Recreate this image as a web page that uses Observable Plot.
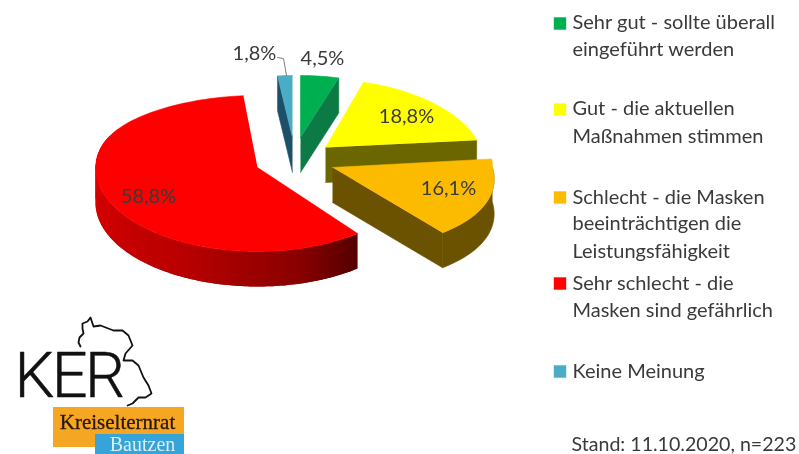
<!DOCTYPE html>
<html lang="de">
<head>
<meta charset="utf-8">
<script src="https://cdn.jsdelivr.net/npm/d3@7"></script>
<script src="https://cdn.jsdelivr.net/npm/@observablehq/plot@0.6"></script>
<style>
html,body{margin:0;padding:0;background:#fff;overflow:hidden}
svg{display:block;filter:blur(0.45px)}
.ker text{letter-spacing:-2.5px}
</style>
</head>
<body>
<div id="chart"></div>
<script>
// ---- data ----
const categories = ["Sehr gut", "Gut", "Schlecht", "Sehr schlecht", "Keine Meinung"];
const shares = [4.5, 18.8, 16.1, 58.8, 1.8];
const topColors = ["#00b050", "#ffff00", "#fdbb00", "#ff0000", "#4bacc6"];
const sideColors = ["#0c7a45", "#6b6600", "#6b5200", "#b00000", "#1d5068"];
const legendLines = [
  ["Sehr gut - sollte überall", "eingeführt werden"],
  ["Gut - die aktuellen", "Maßnahmen stimmen"],
  ["Schlecht - die Masken", "beeinträchtigen die", "Leistungsfähigkeit"],
  ["Sehr schlecht - die", "Masken sind gefährlich"],
  ["Keine Meinung"]
];
const footnote = "Stand: 11.10.2020, n=223";

// ---- layout of the exploded, tilted pie (per slice) ----
const apexX = [300, 325, 332, 257, 292];
const apexY = [137, 147, 167, 167, 137];
const radiusX = [155, 154, 160, 162, 150];
const radiusBack = [62, 68, 80, 72, 62];
const radiusFront = [62, 80, 83, 84, 62];
const backPower = [1, 1, 1, 0.6, 1];
const shrinkBack = [0.12, 0.12, 0, 0.23, 0.12];
const growFront = [0, 0, 0.145, 0, 0];
const labelX = [322, 406, 448, 148, 254];
const labelY = [58, 116, 188, 196, 53];
const legendY = [[22, 49], [108, 136], [197, 223, 251], [283, 310], [371]];
const depth = 35;

const total = d3.sum(shares);
const cumulative = d3.cumsum(shares);
const arcPoint = (i, deg) => {
  const t = deg * Math.PI / 180, c = Math.cos(t), s = Math.sin(t);
  const k = 1 - shrinkBack[i] * Math.max(c, 0) + growFront[i] * Math.max(-c, 0);
  return {
    x: apexX[i] + radiusX[i] * s * k,
    y: apexY[i] - (c > 0 ? radiusBack[i] * Math.pow(c, backPower[i]) : radiusFront[i] * c)
  };
};
const sweep = (a, b, step = 2) => {
  const n = Math.max(1, Math.ceil(Math.abs(b - a) / step));
  return d3.range(n + 1).map(j => a + (b - a) * j / n);
};
const startDeg = i => (i ? cumulative[i - 1] : 0) / total * 360;
const endDeg = i => cumulative[i] / total * 360;

let pid = 0;
const addPoly = (list, pts, c) => { pid++; pts.forEach(p => list.push({...p, id: pid, c})); };
const down = p => ({x: p.x, y: p.y + depth});
const backFaces = [], redStrips = [], redTop = [];
const radialFace = (i, deg, c) => {
  const a = {x: apexX[i], y: apexY[i]}, e = arcPoint(i, deg);
  addPoly(backFaces, [a, e, down(e), down(a)], c);
};
const redShade = d3.scaleLinear()
  .domain([142, 165, 205, 250, 290])
  .range(["#560000", "#8a0000", "#b80000", "#cf0000", "#e00000"]);

// painter's order: back slices first
[4, 0, 1, 2].forEach(i => {
  const a = startDeg(i), b = endDeg(i);
  if (i === 4) radialFace(i, a, sideColors[i]);
  if (i === 0 || i === 1) radialFace(i, b, sideColors[i]);
  if (i === 2) {
    const arc = sweep(90, b).map(d => arcPoint(i, d));
    addPoly(backFaces, [...arc, ...arc.map(down).reverse()], sideColors[i]);
    radialFace(i, b, sideColors[i]);
  }
  addPoly(backFaces, [{x: apexX[i], y: apexY[i]}, ...sweep(a, b).map(d => arcPoint(i, d))], topColors[i]);
});
// red slice: overlapping strips give a smooth shaded rim
const redStart = startDeg(3), redEnd = endDeg(3);
const rimDegs = sweep(redStart, 285, 2);
rimDegs.forEach((d, j) => {
  if (j + 1 >= rimDegs.length) return;
  const span = sweep(d, rimDegs[Math.min(j + 2, rimDegs.length - 1)], 1).map(v => arcPoint(3, v));
  addPoly(redStrips, [...span, ...span.map(down).reverse()], redShade(d));
});
addPoly(redTop, [{x: apexX[3], y: apexY[3]}, ...sweep(redStart, redEnd).map(d => arcPoint(3, d))], topColors[3]);

const fmt = v => v.toFixed(1).replace(".", ",") + "%";
const labels = shares.map((v, i) => ({x: labelX[i], y: labelY[i], t: fmt(v)}));
const leader = [{x: 277, y: 57}, {x: 283, y: 58}, {x: 286, y: 75}];

const legendSquares = categories.map((c, i) => ({c, fill: topColors[i], y: legendY[i][0] + (i === 0 || i === 1 ? 1 : 0)}));
const legendText = legendLines.flatMap((lines, i) => lines.map((t, j) => ({t, y: legendY[i][j]})));

// ---- logo ----
const mapOutline = [[80,346],[78,342],[79,337],[83,333],[82,328],[82,323],[87,321],[90,317],[93,326],[100,325],[113,330],[122,330],[128,335],[132,345],[125,353],[123,360],[132,360],[138,365],[143,377],[148,385],[151,393],[145,397],[138,397],[132,403],[127,405]]
  .map(([x, y]) => ({x, y}));
const logoRects = [
  {x1: 53, x2: 184, y1: 407, y2: 447, c: "#f5a623"},
  {x1: 95, x2: 184, y1: 434, y2: 454, c: "#36a3d9"}
];

const font = "Lato, 'Open Sans', sans-serif";
const faces = {x: "x", y: "y", z: "id", fill: "c", curve: "linear"};
const chart = Plot.plot({
  width: 799, height: 454, margin: 0,
  x: {domain: [0, 799], range: [0, 799], axis: null},
  y: {domain: [0, 454], range: [0, 454], axis: null},
  color: {type: "identity"},
  style: {background: "#fff", fontFamily: font},
  marks: [
    Plot.line(backFaces, {...faces, stroke: "c", strokeWidth: 0.6}),
    Plot.line(redStrips, {...faces, stroke: "none"}),
    Plot.line(redTop, {...faces, stroke: "c", strokeWidth: 0.6}),
    Plot.line(leader, {x: "x", y: "y", stroke: "#7f7f7f", strokeWidth: 1}),
    Plot.text(labels, {x: "x", y: "y", text: "t", fill: "#3a3a3a", fontSize: 20, fontFamily: font}),
    Plot.dot(legendSquares, {x: 559.5, y: "y", symbol: "square", r: 7, fill: "fill", stroke: "none"}),
    Plot.text(legendText, {x: 572, y: "y", text: "t", textAnchor: "start", fill: "#3a3a3a", fontSize: 20, fontFamily: font}),
    Plot.text([footnote], {x: 571, y: 444, text: d => d, textAnchor: "start", fill: "#3a3a3a", fontSize: 19.6, fontFamily: font}),
    Plot.rect(logoRects, {x1: "x1", x2: "x2", y1: "y1", y2: "y2", fill: "c"}),
    Plot.line(mapOutline, {x: "x", y: "y", stroke: "#111", strokeWidth: 1.8, curve: "linear"}),
    Plot.text(["KER"], {x: 68, y: 376, text: d => d, fill: "#111", stroke: "#111", strokeWidth: 0.5, fontSize: 63, fontWeight: 300, fontFamily: "Roboto", className: "ker"}),
    Plot.text(["Kreiselternrat"], {x: 117, y: 422, text: d => d, fill: "#2a1608", stroke: "#2a1608", strokeWidth: 0.3, fontSize: 21, fontFamily: "'Liberation Serif'"}),
    Plot.text(["Bautzen"], {x: 142, y: 444, text: d => d, fill: "#dceef7", fontSize: 20, fontFamily: "'Liberation Serif'"})
  ]
});
document.getElementById("chart").append(chart);
</script>
</body>
</html>
